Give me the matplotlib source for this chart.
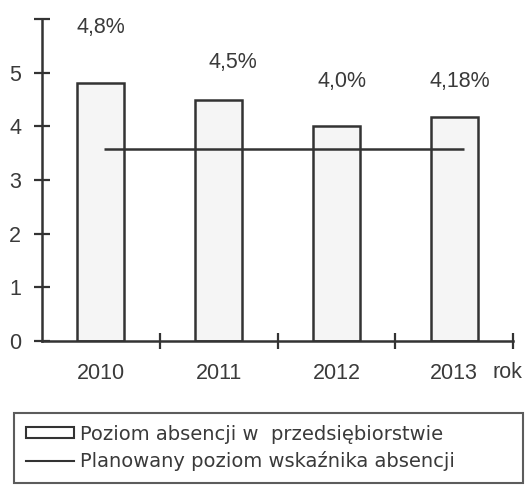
import matplotlib.pyplot as plt
from matplotlib.patches import Patch
from matplotlib.lines import Line2D

# dane
years = ['2010', '2011', '2012', '2013']
absencja = [4.8, 4.5, 4.0, 4.18]
etykiety = ['4,8%', '4,5%', '4,0%', '4,18%']
plan = 3.58
plan_od, plan_do = 0.03, 3.08

# przesuniecia etykiet nad slupkami (x, y)
lab_dx = [0.0, 0.12, 0.05, 0.05]
lab_dy = [1.04, 0.69, 0.83, 0.65]

txt = '#3a3a3a'
plt.rcParams['font.family'] = ['Liberation Sans', 'DejaVu Sans']

fig = plt.figure(figsize=(5.31, 4.86), dpi=100)
ax = fig.add_axes([42 / 531, 1 - 341 / 486, 471 / 531, 322 / 486])

x = list(range(len(years)))
ax.bar(x, absencja, width=0.4, color='#f5f5f5', edgecolor='#333333', linewidth=1.8, zorder=2)
ax.hlines(plan, plan_od, plan_do, color='#333333', linewidth=1.8, zorder=3)

for i, t in enumerate(etykiety):
    ax.text(x[i] + lab_dx[i], absencja[i] + lab_dy[i], t, ha='center', va='center',
            fontsize=15.5, color=txt)

ax.set_xlim(-0.5, 3.5)
ax.set_ylim(0, 6)
for s in ['top', 'right']:
    ax.spines[s].set_visible(False)
for s in ['left', 'bottom']:
    ax.spines[s].set_color('#333333')
    ax.spines[s].set_linewidth(1.8)

ax.set_yticks(range(7))
ax.set_yticklabels(['0', '1', '2', '3', '4', '5', ''])
ax.tick_params(axis='y', direction='inout', length=12, width=1.6, color='#333333',
               labelsize=15.5, labelcolor=txt, pad=9)

ax.set_xticks(x)
ax.set_xticklabels(years)
ax.set_xticks([0.5, 1.5, 2.5, 3.5], minor=True)
ax.tick_params(axis='x', which='major', length=0, labelsize=15.5, labelcolor=txt, pad=16)
ax.tick_params(axis='x', which='minor', direction='inout', length=12, width=1.6, color='#333333')
ax.annotate('rok', xy=(3.45, 0), xytext=(0, -22.5), textcoords='offset points',
            ha='center', va='center', fontsize=15.5, color=txt, annotation_clip=False)

handles = [Patch(facecolor='white', edgecolor='#333333', linewidth=1.5),
           Line2D([0], [0], color='#333333', linewidth=1.5)]
labels = ['Poziom absencji w  przedsiębiorstwie', 'Planowany poziom wskaźnika absencji']
leg = fig.legend(handles, labels, loc='upper left', bbox_to_anchor=(14 / 531, 1 - 413 / 486, 509 / 531, 0),
                 mode='expand', frameon=True, fancybox=False, edgecolor='#333333',
                 prop={'family': 'DejaVu Sans', 'size': 14}, handlelength=2.5, handleheight=0.5,
                 handletextpad=0.3, borderpad=0.6, labelspacing=0.4, borderaxespad=0)
leg.get_frame().set_linewidth(1.5)
for t in leg.get_texts():
    t.set_color(txt)

fig.savefig('out.png', dpi=100)
